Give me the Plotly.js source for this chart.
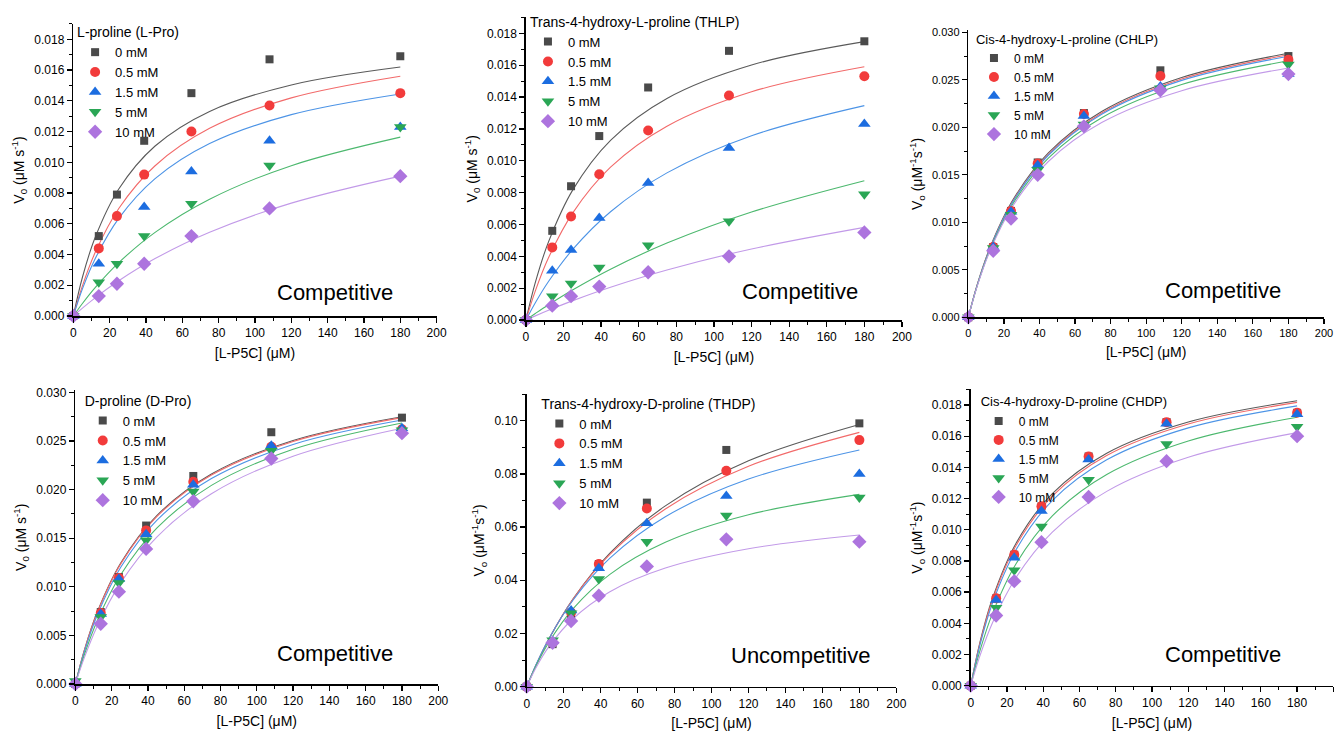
<!DOCTYPE html>
<html>
<head>
<meta charset="utf-8">
<script src="https://cdn.plot.ly/plotly-3.0.1.min.js"></script>
<style>html,body{margin:0;padding:0;background:#fff}#chart{width:1341px;height:731px}</style>
</head>
<body>
<div id="chart"></div>
<script>
// ---------- DATA ----------
const substrateConc = [0, 14, 24, 39, 65, 108, 180];          // [L-P5C] (µM), measured points
const fitConc = [0, 5, 12, 25, 45, 75, 120, 180];             // [L-P5C] (µM), points
const inhibitorLabels = ['0 mM', '0.5 mM', '1.5 mM', '5 mM', '10 mM'];
const inhibitorNames = [
  'L-proline (L-Pro)', 'Trans-4-hydroxy-L-proline (THLP)', 'Cis-4-hydroxy-L-proline (CHLP)',
  'D-proline (D-Pro)', 'Trans-4-hydroxy-D-proline (THDP)', 'Cis-4-hydroxy-D-proline (CHDP)'
];
const mechanisms = ['Competitive', 'Competitive', 'Competitive', 'Competitive', 'Uncompetitive', 'Competitive'];
const yTitles = [
  'V<sub>0</sub> (μM s<sup>-1</sup>)', 'V<sub>0</sub> (μM s<sup>-1</sup>)', 'V<sub>o</sub> (μM<sup>-1</sup>s<sup>-1</sup>)',
  'V<sub>0</sub> (μM s<sup>-1</sup>)', 'V<sub>o</sub> (μM<sup>-1</sup>s<sup>-1</sup>)', 'V<sub>o</sub> (μM<sup>-1</sup>s<sup>-1</sup>)'
];

// L-Pro
const lProPoints = [
  [0, 0.0052, 0.0079, 0.0114, 0.0145, 0.0167, 0.0169],
  [0, 0.0044, 0.0065, 0.0092, 0.0120, 0.0137, 0.0145],
  [0, 0.0034, null, 0.0071, 0.0094, 0.0114, 0.0123],
  [0, 0.0022, 0.0034, 0.0052, 0.0073, 0.0098, 0.0123],
  [0, 0.0013, 0.0021, 0.0034, 0.0052, 0.0070, 0.0091]
];
const lProFit = [
  [0, 0.002522, 0.005112, 0.008263, 0.011060, 0.013312, 0.015035, 0.016200],
  [0, 0.001963, 0.004128, 0.006994, 0.009778, 0.012209, 0.014194, 0.015604],
  [0, 0.001763, 0.003725, 0.006351, 0.008936, 0.011219, 0.013102, 0.014449],
  [0, 0.000815, 0.001844, 0.003472, 0.005444, 0.007601, 0.009783, 0.011638],
  [0, 0.000512, 0.001181, 0.002293, 0.003735, 0.005448, 0.007343, 0.009102]
];
// THLP
const thlpPoints = [
  [0, 0.0056, 0.0084, 0.01155, 0.0146, 0.0169, 0.0175],
  [0, 0.00456, 0.0065, 0.00915, 0.0119, 0.0141, 0.0153],
  [0, 0.0031, 0.0044, 0.0064, 0.0086, 0.0108, 0.0123],
  [0, 0.0015, 0.0023, 0.0033, 0.0047, 0.0062, 0.0079],
  [0, 0.0009, 0.0015, 0.0021, 0.0030, 0.0040, 0.0055]
];
const thlpFit = [
  [0, 0.002361, 0.004908, 0.008189, 0.011284, 0.013914, 0.016013, 0.017477],
  [0, 0.001834, 0.003909, 0.006742, 0.009594, 0.012167, 0.014330, 0.015899],
  [0, 0.001083, 0.002416, 0.004450, 0.006799, 0.009238, 0.011572, 0.013461],
  [0, 0.000411, 0.000960, 0.001905, 0.003195, 0.004830, 0.006783, 0.008748],
  [0, 0.000261, 0.000611, 0.001219, 0.002059, 0.003142, 0.004461, 0.005819]
];
// CHLP
const chlpPoints = [
  [0, 0.0074, 0.0112, 0.0163, 0.0215, 0.0260, 0.0275],
  [0, 0.0074, 0.0112, 0.0162, 0.0214, 0.0254, 0.0271],
  [0, 0.0074, 0.0111, 0.0160, 0.0212, 0.0243, 0.0256],
  [0, 0.0073, 0.0108, 0.0155, 0.0203, 0.0241, 0.0266],
  [0, 0.0070, 0.0104, 0.0150, 0.0201, 0.0239, 0.0256]
];
const chlpFit = [
  [0, 0.003442, 0.007256, 0.012334, 0.017300, 0.021660, 0.025239, 0.027790],
  [0, 0.003402, 0.007179, 0.012218, 0.017159, 0.021508, 0.025084, 0.027637],
  [0, 0.003382, 0.007138, 0.012148, 0.017061, 0.021384, 0.024940, 0.027478],
  [0, 0.003324, 0.007014, 0.011937, 0.016764, 0.021012, 0.024506, 0.027000],
  [0, 0.003280, 0.006905, 0.011714, 0.016400, 0.020500, 0.023855, 0.026240]
];
// D-Pro
const dProPoints = [
  [0, 0.0074, 0.0110, 0.0163, 0.0214, 0.0259, 0.0274],
  [0, 0.0073, 0.0109, 0.0158, 0.0208, 0.0244, 0.0262],
  [0, 0.0072, 0.0108, 0.0154, 0.0205, 0.0245, 0.0263],
  [0.0003, 0.0069, 0.0104, 0.0148, 0.0198, 0.0240, 0.0261],
  [0, 0.0062, 0.0095, 0.0139, 0.0188, 0.0232, 0.0258]
];
const dProFit = [
  [0, 0.003514, 0.007373, 0.012449, 0.017350, 0.021602, 0.025056, 0.027499],
  [0, 0.003480, 0.007307, 0.012355, 0.017242, 0.021492, 0.024951, 0.027402],
  [0, 0.003342, 0.007053, 0.012003, 0.016858, 0.021130, 0.024643, 0.027151],
  [0, 0.003035, 0.006488, 0.011234, 0.016052, 0.020433, 0.024139, 0.026845],
  [0, 0.002739, 0.005924, 0.010424, 0.015145, 0.019578, 0.023436, 0.026317]
];
// THDP
const thdpPoints = [
  [0, 0.0160, 0.0269, 0.0461, 0.0692, 0.0890, 0.0990],
  [0, 0.0165, 0.0279, 0.0461, 0.0670, 0.0812, 0.0927],
  [0, 0.0172, 0.0286, 0.0445, 0.0614, 0.0717, 0.0800],
  [0, 0.0175, 0.0276, 0.0405, 0.0545, 0.0644, 0.0711],
  [0, 0.0165, 0.0247, 0.0342, 0.0452, 0.0554, 0.0545]
];
const thdpFit = [
  [0, 0.008045, 0.017920, 0.032932, 0.050181, 0.067982, 0.084929, 0.098583],
  [0, 0.008124, 0.018013, 0.032881, 0.049716, 0.066823, 0.082860, 0.095608],
  [0, 0.008225, 0.018059, 0.032485, 0.048320, 0.063895, 0.078044, 0.088992],
  [0, 0.007770, 0.016729, 0.029259, 0.042237, 0.054275, 0.064636, 0.072305],
  [0, 0.007163, 0.015069, 0.025538, 0.035719, 0.044612, 0.051876, 0.057036]
];
// CHDP
const chdpPoints = [
  [0, 0.0056, 0.0084, 0.0115, 0.0147, 0.0169, 0.0175],
  [0, 0.0056, 0.0084, 0.0115, 0.0147, 0.0169, 0.0175],
  [0, 0.0055, 0.0082, 0.0112, 0.0145, 0.0168, 0.0174],
  [0, 0.0050, 0.0074, 0.0102, 0.0132, 0.0155, 0.0166],
  [0, 0.0045, 0.0067, 0.0092, 0.0121, 0.0144, 0.0160]
];
const chdpFit = [
  [0, 0.002751, 0.005611, 0.009140, 0.012318, 0.014911, 0.016913, 0.018277],
  [0, 0.002685, 0.005495, 0.008988, 0.012158, 0.014762, 0.016784, 0.018167],
  [0, 0.002575, 0.005297, 0.008722, 0.011870, 0.014484, 0.016532, 0.017942],
  [0, 0.002214, 0.004639, 0.007823, 0.010888, 0.013541, 0.015691, 0.017210],
  [0, 0.001896, 0.004033, 0.006937, 0.009847, 0.012460, 0.014646, 0.016228]
];

const allPoints = [lProPoints, thlpPoints, chlpPoints, dProPoints, thdpPoints, chdpPoints];
const allFits = [lProFit, thlpFit, chlpFit, dProFit, thdpFit, chdpFit];

// ---------- STYLE ----------
const FONT = 'Arial, "Liberation Sans", Helvetica, sans-serif';
const markerColors = ['#4a4a4a', '#f23b3b', '#1c6de0', '#2aa655', '#ad74de'];
const lineColors = ['#5a5a5a', '#f26a6a', '#4d94e6', '#4cb86e', '#c29ae8'];
const symbols = ['square', 'circle', 'triangle-up', 'triangle-down', 'diamond'];
const markerSizes = [8, 10, 11, 11, 11];

const panelBox = [
  {x: [0.0547, 0.3256], y: [0.5677, 0.9672], yr: [0, 0.019], dt: 0.002, fmt: '.3f', tf: 12},
  {x: [0.3922, 0.6726], y: [0.5622, 0.9762], yr: [0, 0.019], dt: 0.002, fmt: '.3f', tf: 12},
  {x: [0.7221, 0.9873], y: [0.5659, 0.9584], yr: [0, 0.0302], dt: 0.005, fmt: '.3f', tf: 11},
  {x: [0.0562, 0.3268], y: [0.0643, 0.4659], yr: [0, 0.0302], dt: 0.005, fmt: '.3f', tf: 12},
  {x: [0.3928, 0.6684], y: [0.0606, 0.4609], yr: [0, 0.11], dt: 0.02, fmt: '.2f', tf: 12},
  {x: [0.7239, 0.9943], y: [0.0620, 0.4673], yr: [0, 0.019], dt: 0.002, fmt: '.3f', tf: 12}
];
const legendPos = [
  {x: 0.0560, y: 0.9740, fs: 13, ts: 14},
  {x: 0.3937, y: 0.9885, fs: 13, ts: 14},
  {x: 0.7263, y: 0.9635, fs: 12, ts: 13},
  {x: 0.0617, y: 0.4700, fs: 13, ts: 14},
  {x: 0.4022, y: 0.4660, fs: 13, ts: 14},
  {x: 0.7298, y: 0.4672, fs: 12, ts: 13}
];
const annotPos = [
  {x: 144.0, y: 0.00156}, {x: 145.8, y: 0.00182}, {x: 143.4, y: 0.0028},
  {x: 143.1, y: 0.00309}, {x: 147.9, y: 0.0119}, {x: 139.3, y: 0.00203}
];

// ---------- BUILD ----------
const traces = [];
const layout = {
  width: 1341, height: 731,
  margin: {l: 0, r: 0, t: 0, b: 0},
  paper_bgcolor: '#ffffff', plot_bgcolor: '#ffffff',
  font: {family: FONT, color: '#000'},
  showlegend: true,
  annotations: []
};

for (let p = 0; p < 6; p++) {
  const sfx = p === 0 ? '' : String(p + 1);
  const xa = 'x' + sfx, ya = 'y' + sfx;
  const legendId = 'legend' + sfx;
  const box = panelBox[p];

  // fitted curves
  for (let s = 0; s < 5; s++) {
    traces.push({
      type: 'scatter', mode: 'lines', x: fitConc, y: allFits[p][s],
      xaxis: xa, yaxis: ya, showlegend: false, hoverinfo: 'skip',
      line: {color: lineColors[s], width: 1.1, shape: 'spline', smoothing: 1}
    });
  }
  // measured points
  for (let s = 0; s < 5; s++) {
    traces.push({
      type: 'scatter', mode: 'markers', x: substrateConc, y: allPoints[p][s],
      xaxis: xa, yaxis: ya, name: inhibitorLabels[s], legend: legendId,
      cliponaxis: false,
      marker: {symbol: symbols[s], color: markerColors[s], size: markerSizes[s], line: {width: 0}}
    });
  }

  layout['xaxis' + sfx] = {
    domain: box.x, anchor: ya, range: [0, 200], dtick: 20, tick0: 0,
    showline: true, linecolor: '#000', linewidth: 1.6, mirror: false,
    ticks: 'outside', ticklen: 5, tickwidth: 1.3, tickcolor: '#000',
    minor: {ticks: 'outside', ticklen: 3, tickwidth: 1, tickcolor: '#000', dtick: 10},
    showgrid: false, zeroline: false,
    tickfont: {family: FONT, size: box.tf, color: '#000'},
    title: {text: '[L-P5C] (μM)', font: {family: FONT, size: 14, color: '#000'}, standoff: 9},
    automargin: false
  };
  layout['yaxis' + sfx] = {
    domain: box.y, anchor: xa, range: box.yr, dtick: box.dt, tick0: 0, tickformat: box.fmt,
    showline: true, linecolor: '#000', linewidth: 1.6, mirror: false,
    ticks: 'outside', ticklen: 5, tickwidth: 1.3, tickcolor: '#000',
    minor: {ticks: 'outside', ticklen: 3, tickwidth: 1, tickcolor: '#000', dtick: box.dt / 2},
    showgrid: false, zeroline: false,
    tickfont: {family: FONT, size: box.tf, color: '#000'},
    title: {text: yTitles[p], font: {family: FONT, size: 14, color: '#000'}, standoff: 6},
    automargin: false
  };
  const lp = legendPos[p];
  layout[legendId] = {
    x: lp.x, y: lp.y, xanchor: 'left', yanchor: 'top',
    bgcolor: 'rgba(0,0,0,0)', borderwidth: 0,
    font: {family: FONT, size: lp.fs, color: '#000'},
    title: {text: inhibitorNames[p], font: {family: FONT, size: lp.ts, color: '#000'}},
    tracegroupgap: 0, itemsizing: 'trace'
  };
  layout.annotations.push({
    xref: xa, yref: ya, x: annotPos[p].x, y: annotPos[p].y,
    text: mechanisms[p], showarrow: false, xanchor: 'center', yanchor: 'middle',
    font: {family: FONT, size: 22, color: '#000'}
  });
}

Plotly.newPlot('chart', traces, layout, {displayModeBar: false, staticPlot: true});
</script>
</body>
</html>
